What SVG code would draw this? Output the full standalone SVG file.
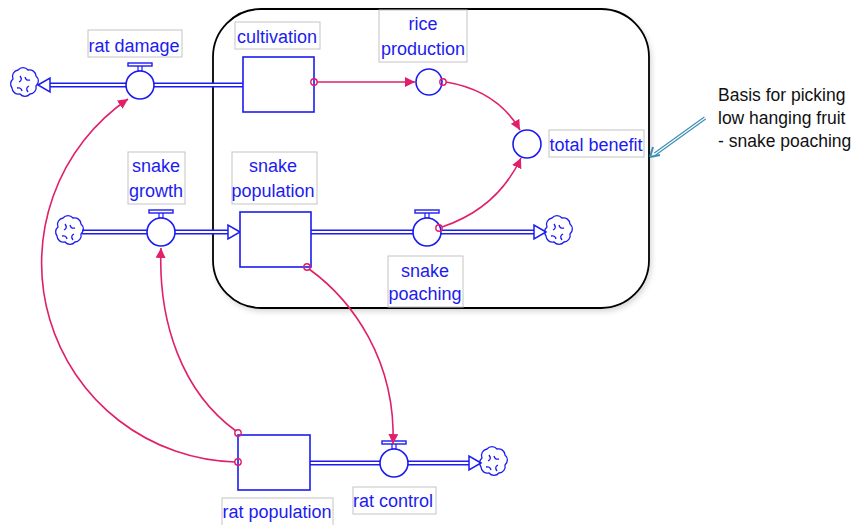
<svg xmlns="http://www.w3.org/2000/svg" xmlns:xlink="http://www.w3.org/1999/xlink" width="865" height="525" viewBox="0 0 865 525">
<style>
.lbl{fill:#1c1cf0;font-family:"Liberation Sans",Arial,sans-serif;font-size:18px;text-anchor:middle}
.lbox{fill:#fff;stroke:#c4c4c4;stroke-width:1}
.stock{fill:#fff;stroke:#1c1cf0;stroke-width:1.6}
.pipe{fill:none;stroke:#1c1cf0;stroke-width:5}
.pipein{fill:none;stroke:#fff;stroke-width:2}
.fhead{fill:#fff;stroke:#1c1cf0;stroke-width:1.5}
.link{fill:none;stroke:#e0206a;stroke-width:1.6}
.lstart{fill:none;stroke:#e0206a;stroke-width:1.4}
.note{fill:#111;font-family:"Liberation Sans",Arial,sans-serif;font-size:17.5px}
</style>
<defs>
<marker id="ah" viewBox="0 0 10 10" refX="10" refY="5" markerWidth="10" markerHeight="10" markerUnits="userSpaceOnUse" orient="auto">
<path d="M0,0 L10,5 L0,10 z" fill="#e0206a"/>
</marker>
<g id="valve">
<rect x="-2" y="-20" width="4" height="6" fill="#fff" stroke="#1c1cf0" stroke-width="1.2"/>
<rect x="-12" y="-22" width="24" height="3" fill="#fff" stroke="#1c1cf0" stroke-width="1.4"/>
<circle cx="0" cy="0" r="14" fill="#fff" stroke="#1c1cf0" stroke-width="1.6"/>
</g>
<g id="cloud" fill="none" stroke="#1c1cf0" stroke-width="1.3">
<path d="M-11,-5 a6.5,6.5 0 0 1 5,-9 a6.5,6.5 0 0 1 10,0 a6.5,6.5 0 0 1 8,6 a6.5,6.5 0 0 1 0,10 a6.5,6.5 0 0 1 -6,8 a6.5,6.5 0 0 1 -10,0 a6.5,6.5 0 0 1 -8,-6 a6.5,6.5 0 0 1 1,-9 z"/>
<path d="M-4,-8 q3,4 -1,6 M6,-4 q-4,1 -5,-3 M4,8 q-3,-4 1,-6 M-7,4 q4,-1 5,3"/>
</g>
<filter id="sh" x="-5%" y="-5%" width="110%" height="115%"><feGaussianBlur stdDeviation="3"/></filter>
</defs>

<!-- boundary -->
<rect x="215" y="12" width="436" height="299" rx="48" fill="#000" opacity="0.18" filter="url(#sh)"/>
<rect x="213" y="9" width="436" height="299" rx="48" fill="#fff" stroke="#000" stroke-width="1.8"/>

<!-- annotation -->
<g id="annotation">
<text class="note" x="718" y="101">Basis for picking</text>
<text class="note" x="718" y="124">low hanging fruit</text>
<text class="note" x="718" y="147">- snake poaching</text>
<path d="M705,118 L655,154" stroke="#3b8fb5" stroke-width="3.5" fill="none"/>
<path d="M705,118 L655,154" stroke="#fff" stroke-width="1.2" fill="none"/>
<path d="M650,157 L653,147 M650,157 L660,155" stroke="#3b8fb5" stroke-width="2" fill="none"/>
</g>

<!-- flows -->
<g id="flows">
<path class="pipe" d="M243,85 H50"/><path class="pipein" d="M243,85 H50"/>
<polygon class="fhead" points="38,85 50,78 50,92"/>
<path class="pipe" d="M82,232 H228"/><path class="pipein" d="M82,232 H228"/>
<polygon class="fhead" points="240,232 228,225 228,239"/>
<path class="pipe" d="M311,232 H534"/><path class="pipein" d="M311,232 H534"/>
<polygon class="fhead" points="546,232 534,225 534,239"/>
<path class="pipe" d="M310,463 H469"/><path class="pipein" d="M310,463 H469"/>
<polygon class="fhead" points="481,463 469,456 469,470"/>
<use href="#cloud" x="24" y="84"/>
<use href="#cloud" x="69" y="232"/>
<use href="#cloud" x="558" y="232"/>
<use href="#cloud" x="493" y="463"/>
</g>

<!-- nodes -->
<g id="rat_damage">
<use href="#valve" x="140" y="85"/>
<rect class="lbox" x="88" y="30" width="94" height="27"/>
<text class="lbl" x="134" y="52">rat damage</text>
</g>
<g id="cultivation">
<rect class="stock" x="243" y="57" width="71" height="55"/>
<rect class="lbox" x="235" y="22" width="85" height="27"/>
<text class="lbl" x="277" y="43">cultivation</text>
</g>
<g id="rice_production">
<circle cx="429" cy="82" r="13" fill="#fff" stroke="#1c1cf0" stroke-width="1.6"/>
<rect class="lbox" x="379" y="10" width="88" height="52"/>
<text class="lbl" x="423" y="30">rice</text>
<text class="lbl" x="423" y="55">production</text>
</g>
<g id="total_benefit">
<circle cx="527" cy="144" r="14" fill="#fff" stroke="#1c1cf0" stroke-width="1.6"/>
<rect class="lbox" x="549" y="130" width="95" height="27"/>
<text class="lbl" x="596" y="151">total benefit</text>
</g>
<g id="snake_growth">
<use href="#valve" x="161" y="232"/>
<rect class="lbox" x="128" y="152" width="57" height="52"/>
<text class="lbl" x="156" y="172">snake</text>
<text class="lbl" x="156" y="197">growth</text>
</g>
<g id="snake_population">
<rect class="stock" x="240" y="212" width="71" height="55"/>
<rect class="lbox" x="232" y="152" width="85" height="52"/>
<text class="lbl" x="273" y="172">snake</text>
<text class="lbl" x="273" y="197">population</text>
</g>
<g id="snake_poaching">
<use href="#valve" x="427" y="232"/>
<rect class="lbox" x="388" y="256" width="75" height="51"/>
<text class="lbl" x="425" y="277">snake</text>
<text class="lbl" x="425" y="300">poaching</text>
</g>
<g id="rat_population">
<rect class="stock" x="238" y="435" width="72" height="55"/>
<rect class="lbox" x="222" y="498" width="111" height="28"/>
<text class="lbl" x="277" y="518">rat population</text>
</g>
<g id="rat_control">
<use href="#valve" x="394" y="463"/>
<rect class="lbox" x="353" y="487" width="83" height="27"/>
<text class="lbl" x="393" y="507">rat control</text>
</g>

<!-- connectors -->
<g id="links">
<path class="link" d="M317,82 H415" marker-end="url(#ah)"/>
<path class="link" d="M446,82 C482,88 506,106 520,130" marker-end="url(#ah)"/>
<path class="link" d="M442,227 C478,215 505,192 521,158" marker-end="url(#ah)"/>
<path class="link" d="M309,269 C352,300 396,360 393,444" marker-end="url(#ah)"/>
<path class="link" d="M236,431 C182,392 158,322 161,248" marker-end="url(#ah)"/>
<path class="link" d="M235,462 A199,199 0 0 1 128,99" marker-end="url(#ah)"/>
<circle class="lstart" cx="314" cy="82" r="3.2"/>
<circle class="lstart" cx="443" cy="82" r="3.2"/>
<circle class="lstart" cx="439" cy="228" r="3.2"/>
<circle class="lstart" cx="307" cy="267" r="3.2"/>
<circle class="lstart" cx="238" cy="433" r="3.2"/>
<circle class="lstart" cx="238" cy="462" r="3.2"/>
</g>
</svg>
